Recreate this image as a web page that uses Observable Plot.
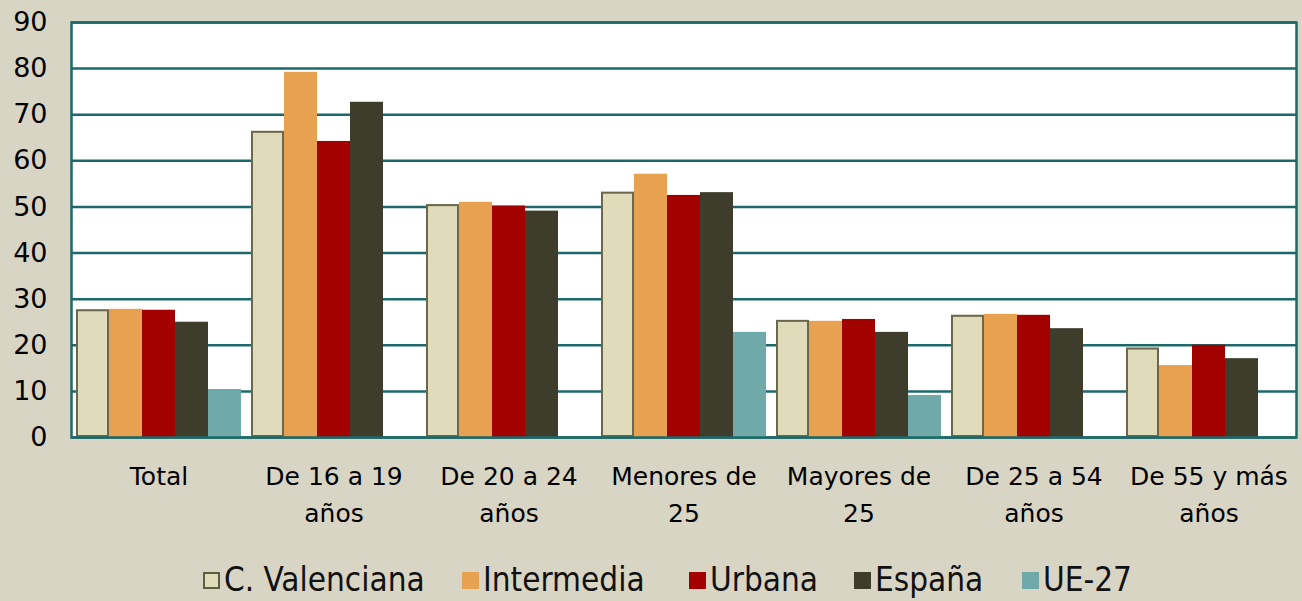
<!DOCTYPE html>
<html>
<head>
<meta charset="utf-8">
<script src="https://cdn.jsdelivr.net/npm/d3@7"></script>
<script src="https://cdn.jsdelivr.net/npm/@observablehq/plot@0.6"></script>
<style>
  html, body { margin: 0; padding: 0; background: #d9d5c4; }
  #chart { width: 1302px; height: 545px; }
  #legend { position: relative; height: 56px;
    font-family: "DejaVu Sans Condensed", "DejaVu Sans", sans-serif; font-stretch: condensed; font-size: 33px; color: #111; }
  .item { display: flex; align-items: center; position: absolute; line-height: 38px; }
  .sw { width: 17px; height: 17px; margin-right: 4px; box-sizing: border-box; }
</style>
</head>
<body>
<div id="chart"></div>
<div id="legend"></div>
<script>
const categories = ["Total", "De 16 a 19 años", "De 20 a 24 años", "Menores de 25", "Mayores de 25", "De 25 a 54 años", "De 55 y más años"];
const tickLabels = ["Total", "De 16 a 19\naños", "De 20 a 24\naños", "Menores de\n25", "Mayores de\n25", "De 25 a 54\naños", "De 55 y más\naños"];
const series = ["C. Valenciana", "Intermedia", "Urbana", "España", "UE-27"];
const colors = ["#e0dcbb", "#e8a150", "#a30000", "#3e3c2b", "#6fa9aa"];
const valenciana = [27.7, 66.4, 50.5, 53.2, 25.4, 26.5, 19.4];
const intermedia = [27.8, 79.2, 51.0, 57.1, 25.2, 26.7, 15.6];
const urbana     = [27.6, 64.2, 50.2, 52.5, 25.6, 26.5, 20.0];
const espana     = [25.0, 72.7, 49.1, 53.1, 22.8, 23.6, 17.1];
const ue27       = [10.4, null, null, 22.8, 9.1, null, null];
const yTicks = [0, 10, 20, 30, 40, 50, 60, 70, 80, 90];

const seriesValues = [valenciana, intermedia, urbana, espana, ue27];
const rows = [];
categories.forEach((c, i) => series.forEach((s, j) => {
  const v = seriesValues[j][i];
  if (v != null) rows.push({category: c, series: s, value: v});
}));
const teal = "#1d6868";
const labelOf = new Map(categories.map((c, i) => [c, tickLabels[i]]));

const chart = Plot.plot({
  width: 1302, height: 545,
  marginLeft: 70, marginRight: 6, marginTop: 22, marginBottom: 108,
  style: {background: "transparent", fontFamily: "DejaVu Sans, sans-serif", fontSize: "25px", color: "#000"},
  fx: {domain: categories, padding: 0, label: null},
  x: {domain: series, paddingInner: 0, paddingOuter: 0.1, axis: null},
  y: {domain: [0, 90], label: null},
  color: {domain: series, range: colors},
  marks: [
    Plot.frame({fill: "white", stroke: null, facet: "super"}),
    Plot.gridY(yTicks, {stroke: teal, strokeOpacity: 1, strokeWidth: 2.5}),
    Plot.barY(rows, {fx: "category", x: "series", y: "value", fill: "series"}),
    Plot.barY(rows.filter(d => d.series === series[0]), {fx: "category", x: "series", y: "value", stroke: "#6a684c", strokeWidth: 2, fill: "none", inset: 1}),
    Plot.frame({stroke: teal, strokeWidth: 2.5, facet: "super"}),
    Plot.axisY(yTicks, {tickSize: 0, tickPadding: 24, fontSize: 27, label: null}),
    Plot.axisFx({anchor: "bottom", tickSize: 0, tickPadding: 21, fontSize: 25, lineHeight: 1.48, tickFormat: d => labelOf.get(d), label: null})
  ]
});
document.getElementById("chart").append(chart);

const legend = document.getElementById("legend");
const legendX = [203, 462, 689, 854, 1022];
series.forEach((s, i) => {
  const it = document.createElement("div");
  it.className = "item";
  it.style.left = legendX[i] + "px";
  it.style.top = "16px";
  const sw = document.createElement("span");
  sw.className = "sw";
  sw.style.background = colors[i];
  if (i === 0) sw.style.border = "2px solid #5e5c42";
  const tx = document.createElement("span");
  tx.textContent = s;
  it.append(sw, tx);
  legend.append(it);
});
</script>
</body>
</html>
